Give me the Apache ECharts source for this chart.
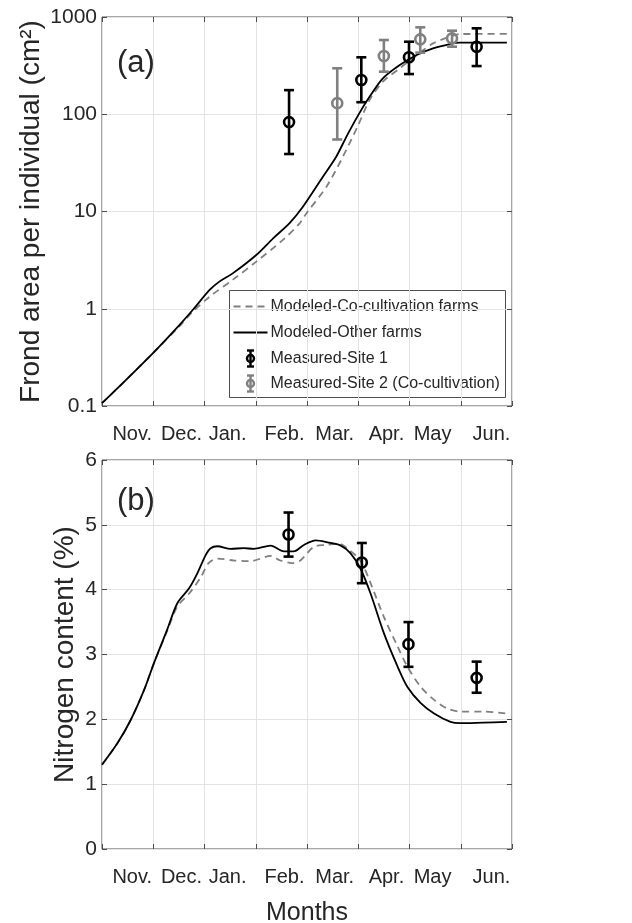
<!DOCTYPE html>
<html>
<head>
<meta charset="utf-8">
<script src="https://cdn.jsdelivr.net/npm/echarts@6/dist/echarts.min.js"></script>
<style>
  html, body { margin: 0; padding: 0; background: #fff; }
  #chart { width: 632px; height: 923px; }
</style>
</head>
<body>
<div id="chart"></div>
<script>
// x is in months counted from the left edge of the plot (gridlines every month)
const monthLabels = ['Nov.', 'Dec.', 'Jan.', 'Feb.', 'Mar.', 'Apr.', 'May', 'Jun.'];
const monthLabelPos = [0.59, 1.55, 2.45, 3.56, 4.54, 5.55, 6.45, 7.6];

// (a) frond area per individual, cm2
const areaCoCult = [
  [0, 0.107], [0.4, 0.171], [0.99, 0.348], [1.51, 0.66], [1.77, 0.93], [2.1, 1.33],
  [2.55, 1.98], [3.01, 3.05], [3.53, 5.1], [3.86, 7.6], [3.99, 9.6], [4.38, 18],
  [4.7, 36.6], [5.0, 77.5], [5.22, 140], [5.48, 216], [5.81, 297], [6.23, 440],
  [6.46, 536], [6.79, 627], [6.99, 668], [7.9, 670]
];
const areaOther = [
  [0, 0.107], [0.4, 0.171], [0.99, 0.348], [1.51, 0.68], [1.77, 0.97], [2.1, 1.56],
  [2.29, 1.9], [2.55, 2.31], [3.01, 3.57], [3.34, 5.3], [3.66, 7.6], [3.92, 11.2],
  [4.31, 22.8], [4.57, 36.6], [4.77, 58.9], [5.0, 98], [5.22, 151], [5.48, 234],
  [5.81, 321], [6.14, 407], [6.46, 476], [6.79, 527], [6.98, 545], [7.9, 545]
];
// [x, mean, low, high]
const site1Area = [[3.65, 83, 39, 177], [5.06, 225, 133, 385], [5.99, 385, 259, 557], [7.31, 495, 313, 765]];
const site2Area = [[4.59, 130, 55, 297], [5.5, 397, 274, 580], [6.21, 589, 430, 783], [6.83, 603, 495, 723]];

// (b) nitrogen content, %
const nitroCoCult = [
  [0, 1.30], [0.3, 1.63], [0.56, 1.99], [0.82, 2.45], [1.01, 2.86], [1.27, 3.36],
  [1.47, 3.74], [1.7, 3.94], [1.92, 4.18], [2.08, 4.41], [2.25, 4.48], [2.57, 4.45],
  [2.9, 4.44], [3.29, 4.52], [3.48, 4.45], [3.71, 4.41], [3.87, 4.45], [4.13, 4.66],
  [4.36, 4.69], [4.62, 4.71], [4.78, 4.64], [5.04, 4.45], [5.24, 4.10], [5.5, 3.58],
  [5.77, 3.12], [5.96, 2.81], [6.22, 2.50], [6.48, 2.30], [6.73, 2.17], [6.99, 2.12],
  [7.44, 2.12], [7.9, 2.09]
];
const nitroOther = [
  [0, 1.30], [0.3, 1.63], [0.56, 1.99], [0.82, 2.45], [1.01, 2.86], [1.27, 3.38],
  [1.47, 3.79], [1.7, 4.02], [1.86, 4.25], [2.02, 4.53], [2.12, 4.64], [2.25, 4.67],
  [2.51, 4.63], [2.77, 4.64], [2.96, 4.63], [3.29, 4.68], [3.55, 4.59], [3.74, 4.59],
  [3.94, 4.69], [4.17, 4.76], [4.4, 4.73], [4.66, 4.68], [4.85, 4.56], [5.04, 4.33],
  [5.24, 3.94], [5.5, 3.33], [5.77, 2.81], [5.96, 2.50], [6.22, 2.25], [6.48, 2.09],
  [6.8, 1.96], [6.99, 1.94], [7.44, 1.95], [7.9, 1.96]
];
const site1Nitro = [[3.64, 4.85, 4.51, 5.19], [5.07, 4.42, 4.10, 4.72], [5.98, 3.16, 2.81, 3.50], [7.31, 2.64, 2.41, 2.89]];

const legendNames = ['Modeled-Co-cultivation farms', 'Modeled-Other farms', 'Measured-Site 1', 'Measured-Site 2 (Co-cultivation)'];

const FONT = '"Liberation Sans", Arial, sans-serif';
const TXT = '#262626';
const FRAME = '#4d4d4d';
const GRIDC = '#e3e3e3';
const BLACK = '#000000';
const GRAY = '#808080';
const TICK = 5;

const chart = echarts.init(document.getElementById('chart'), null, { renderer: 'canvas' });

function errRender(color) {
  return function (params, api) {
    const c = api.coord([api.value(0), api.value(1)]);
    const lo = api.coord([api.value(0), api.value(2)]);
    const hi = api.coord([api.value(0), api.value(3)]);
    const cap = 5;
    const st = { stroke: color, lineWidth: 2.6, fill: 'none' };
    return {
      type: 'group',
      children: [
        { type: 'line', shape: { x1: lo[0], y1: lo[1], x2: hi[0], y2: hi[1] }, style: st },
        { type: 'line', shape: { x1: lo[0] - cap, y1: lo[1], x2: lo[0] + cap, y2: lo[1] }, style: st },
        { type: 'line', shape: { x1: hi[0] - cap, y1: hi[1], x2: hi[0] + cap, y2: hi[1] }, style: st },
        { type: 'circle', shape: { cx: c[0], cy: c[1], r: 5 }, style: st }
      ]
    };
  };
}

// axes are pushed TICK px into the plot so their ticks end on the frame (inward ticks)
const tickStyle = { show: true, inside: false, length: TICK, lineStyle: { color: FRAME, width: 1 } };
const xBase = {
  type: 'value', min: 0, max: 8, interval: 1, offset: -TICK,
  axisLine: { show: false, onZero: false },
  axisTick: tickStyle, nameMoveOverlap: false
};
function xMain(grid, withName) {
  return Object.assign({}, xBase, {
    gridIndex: grid, position: 'bottom',
    splitLine: { show: true, lineStyle: { color: GRIDC, width: 1 } },
    axisLabel: {
      show: true, customValues: monthLabelPos, margin: 18 + TICK,
      fontFamily: FONT, fontSize: 20, color: TXT,
      formatter: v => monthLabels[monthLabelPos.findIndex(p => Math.abs(p - v) < 1e-6)] || ''
    },
    name: withName ? 'Months' : '', nameLocation: 'middle', nameGap: 52 + TICK,
    nameTextStyle: { fontFamily: FONT, fontSize: 25, color: TXT }
  });
}
function xTop(grid) {
  return Object.assign({}, xBase, {
    gridIndex: grid, position: 'top', splitLine: { show: false }, axisLabel: { show: false }
  });
}

const yArea = {
  type: 'log', logBase: 10, min: 0.1, max: 1000, offset: -TICK,
  axisLine: { show: false, onZero: false },
  axisTick: tickStyle, nameMoveOverlap: false,
  minorTick: { show: false }, minorSplitLine: { show: false }
};
const yNitro = {
  type: 'value', min: 0, max: 6, interval: 1, offset: -TICK,
  axisLine: { show: false, onZero: false },
  axisTick: tickStyle, nameMoveOverlap: false
};

const gridBase = { left: 102, width: 410, height: 389, show: true, borderColor: FRAME, borderWidth: 1,
  backgroundColor: '#fff', outerBoundsMode: 'none', containLabel: false };

const option = {
  animation: false,
  backgroundColor: '#fff',
  textStyle: { fontFamily: FONT },
  grid: [
    Object.assign({}, gridBase, { top: 17 }),
    Object.assign({}, gridBase, { top: 460 })
  ],
  xAxis: [xMain(0, false), xTop(0), xMain(1, true), xTop(1)],
  yAxis: [
    Object.assign({}, yArea, {
      gridIndex: 0, position: 'left',
      splitLine: { show: true, lineStyle: { color: GRIDC } },
      axisLabel: { fontFamily: FONT, fontSize: 21, color: TXT, margin: 5 + TICK, formatter: v => String(+v.toPrecision(3)) },
      name: 'Frond area per individual (cm²)', nameLocation: 'middle', nameGap: 62,
      nameTextStyle: { fontFamily: FONT, fontSize: 28, color: TXT }
    }),
    Object.assign({}, yArea, { gridIndex: 0, position: 'right', splitLine: { show: false }, axisLabel: { show: false } }),
    Object.assign({}, yNitro, {
      gridIndex: 1, position: 'left',
      splitLine: { show: true, lineStyle: { color: GRIDC } },
      axisLabel: { fontFamily: FONT, fontSize: 21, color: TXT, margin: 5 + TICK },
      name: 'Nitrogen content (%)', nameLocation: 'middle', nameGap: 28,
      nameTextStyle: { fontFamily: FONT, fontSize: 28, color: TXT }
    }),
    Object.assign({}, yNitro, { gridIndex: 1, position: 'right', splitLine: { show: false }, axisLabel: { show: false } })
  ],
  series: [
    { name: legendNames[0], type: 'line', xAxisIndex: 0, yAxisIndex: 0, data: areaCoCult, smooth: 0.3, showSymbol: false,
      lineStyle: { color: GRAY, width: 1.8, type: [7, 5] }, z: 3 },
    { name: legendNames[1], type: 'line', xAxisIndex: 0, yAxisIndex: 0, data: areaOther, smooth: 0.3, showSymbol: false,
      lineStyle: { color: BLACK, width: 1.8 }, z: 4 },
    { name: legendNames[2], type: 'custom', xAxisIndex: 0, yAxisIndex: 0, data: site1Area, renderItem: errRender(BLACK), z: 6 },
    { name: legendNames[3], type: 'custom', xAxisIndex: 0, yAxisIndex: 0, data: site2Area, renderItem: errRender(GRAY), z: 5 },
    { name: legendNames[0], type: 'line', xAxisIndex: 2, yAxisIndex: 2, data: nitroCoCult, smooth: 0.3, showSymbol: false,
      lineStyle: { color: GRAY, width: 1.8, type: [7, 5] }, z: 3 },
    { name: legendNames[1], type: 'line', xAxisIndex: 2, yAxisIndex: 2, data: nitroOther, smooth: 0.3, showSymbol: false,
      lineStyle: { color: BLACK, width: 1.8 }, z: 4 },
    { name: legendNames[2], type: 'custom', xAxisIndex: 2, yAxisIndex: 2, data: site1Nitro, renderItem: errRender(BLACK), z: 6 }
  ],
  graphic: [
    { type: 'text', left: 117, top: 48, style: { text: '(a)', font: '31px ' + FONT, fill: TXT }, z: 10 },
    { type: 'text', left: 117, top: 486, style: { text: '(b)', font: '31px ' + FONT, fill: TXT }, z: 10 },
    // legend box
    { type: 'group', left: 229, top: 290, z: 20, children: [
      { type: 'rect', shape: { x: 0, y: 0, width: 276, height: 107 }, style: { fill: '#fff', stroke: FRAME, lineWidth: 1 } },
      { type: 'line', shape: { x1: 4, y1: 16, x2: 38, y2: 16 }, style: { stroke: GRAY, lineWidth: 1.8, lineDash: [7, 5] } },
      { type: 'text', x: 41, y: 16, style: { text: legendNames[0], font: '16px ' + FONT, fill: TXT, verticalAlign: 'middle' } },
      { type: 'line', shape: { x1: 4, y1: 42, x2: 38, y2: 42 }, style: { stroke: BLACK, lineWidth: 1.8 } },
      { type: 'text', x: 41, y: 42, style: { text: legendNames[1], font: '16px ' + FONT, fill: TXT, verticalAlign: 'middle' } },
      { type: 'group', x: 21, y: 68, children: [
        { type: 'line', shape: { x1: 0, y1: -8, x2: 0, y2: 8 }, style: { stroke: BLACK, lineWidth: 2.4 } },
        { type: 'line', shape: { x1: -3.5, y1: -8, x2: 3.5, y2: -8 }, style: { stroke: BLACK, lineWidth: 2.4 } },
        { type: 'line', shape: { x1: -3.5, y1: 8, x2: 3.5, y2: 8 }, style: { stroke: BLACK, lineWidth: 2.4 } },
        { type: 'circle', shape: { cx: 0, cy: 0, r: 3.5 }, style: { stroke: BLACK, lineWidth: 2.4, fill: 'none' } }
      ] },
      { type: 'text', x: 41, y: 68, style: { text: legendNames[2], font: '16px ' + FONT, fill: TXT, verticalAlign: 'middle' } },
      { type: 'group', x: 21, y: 93, children: [
        { type: 'line', shape: { x1: 0, y1: -8, x2: 0, y2: 8 }, style: { stroke: GRAY, lineWidth: 2.4 } },
        { type: 'line', shape: { x1: -3.5, y1: -8, x2: 3.5, y2: -8 }, style: { stroke: GRAY, lineWidth: 2.4 } },
        { type: 'line', shape: { x1: -3.5, y1: 8, x2: 3.5, y2: 8 }, style: { stroke: GRAY, lineWidth: 2.4 } },
        { type: 'circle', shape: { cx: 0, cy: 0, r: 3.5 }, style: { stroke: GRAY, lineWidth: 2.4, fill: 'none' } }
      ] },
      { type: 'text', x: 41, y: 93, style: { text: legendNames[3], font: '16px ' + FONT, fill: TXT, verticalAlign: 'middle' } }
    ] }
  ]
};

chart.setOption(option);
</script>
</body>
</html>
